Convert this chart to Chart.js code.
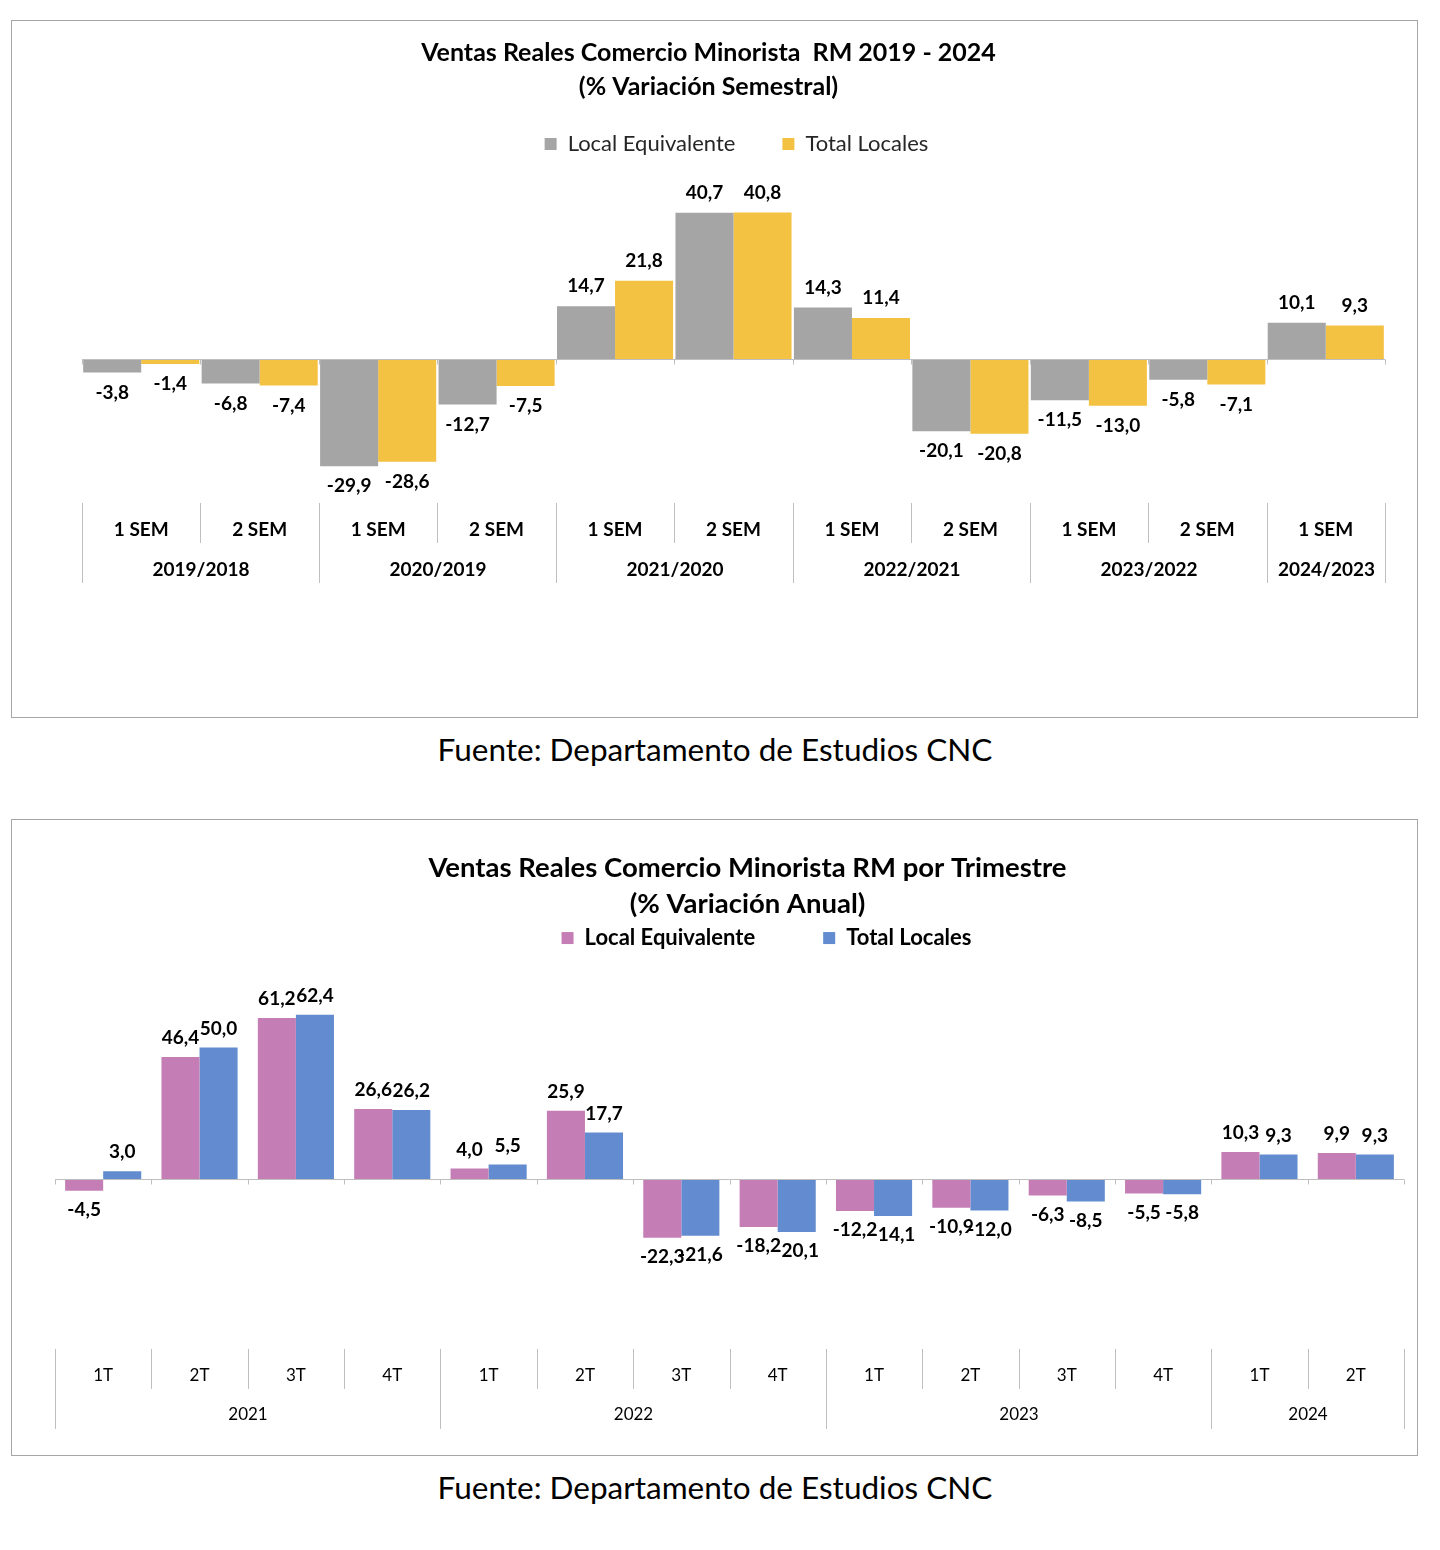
<!DOCTYPE html>
<html lang="es">
<head>
<meta charset="utf-8">
<title>Ventas Reales Comercio Minorista RM</title>
<script src="https://cdn.jsdelivr.net/npm/chart.js@4.4.1/dist/chart.umd.min.js"></script>
<style>
  body { margin: 0; background: #fff; font-family: Lato, sans-serif; }
  .box { position: absolute; left: 11px; width: 1405px; border: 1px solid #a6a6a6; }
  #box1 { top: 20px; height: 696px; }
  #box2 { top: 819px; height: 635px; }
  .src { position: absolute; left: 0; width: 1430px; text-align: center; font-size: 31.5px; line-height: 36px; color: #000; }
</style>
</head>
<body>
<div class="box" id="box1"><canvas id="chartSem"></canvas></div>
<div class="src" style="top:731px">Fuente: Departamento de Estudios CNC</div>
<div class="box" id="box2"><canvas id="chartTrim"></canvas></div>
<div class="src" style="top:1469px">Fuente: Departamento de Estudios CNC</div>

<script>
// Semestral chart data
const semLabels = ['1 SEM', '2 SEM', '1 SEM', '2 SEM', '1 SEM', '2 SEM', '1 SEM', '2 SEM', '1 SEM', '2 SEM', '1 SEM'];
const semGroups = ['2019/2018', '2020/2019', '2021/2020', '2022/2021', '2023/2022', '2024/2023'];
const semSpans  = [2, 2, 2, 2, 2, 1];
const semLocal  = [-3.8, -6.8, -29.9, -12.7, 14.7, 40.7, 14.3, -20.1, -11.5, -5.8, 10.1];
const semTotal  = [-1.4, -7.4, -28.6, -7.5, 21.8, 40.8, 11.4, -20.8, -13.0, -7.1, 9.3];

// Quarterly chart data
const trimLabels = ['1T', '2T', '3T', '4T', '1T', '2T', '3T', '4T', '1T', '2T', '3T', '4T', '1T', '2T'];
const trimGroups = ['2021', '2022', '2023', '2024'];
const trimSpans  = [4, 4, 4, 2];
const trimLocal  = [-4.5, 46.4, 61.2, 26.6, 4.0, 25.9, -22.3, -18.2, -12.2, -10.9, -6.3, -5.5, 10.3, 9.9];
const trimTotal  = [3.0, 50.0, 62.4, 26.2, 5.5, 17.7, -21.6, -20.1, -14.1, -12.0, -8.5, -5.8, 9.3, 9.3];

Chart.defaults.font.family = "Lato, 'Open Sans', sans-serif";
Chart.defaults.color = '#000';

const fmt = v => v.toFixed(1).replace('.', ',');

// Excel-style axis: zero line with ticks, two-level category labels at the bottom, value labels
const excelAxis = {
  id: 'excelAxis',
  afterDatasetsDraw(chart, args, o) {
    const { ctx, chartArea: a, scales: { x, y } } = chart;
    const n = chart.data.labels.length;
    const step = x.getPixelForValue(1) - x.getPixelForValue(0);
    const edge = i => Math.round(x.getPixelForValue(i) - step / 2) + 0.5;
    const y0 = Math.round(y.getPixelForValue(0)) + 0.5;
    const top = a.bottom;

    const groupEdges = new Set([0]);
    let k = 0;
    o.spans.forEach(s => { k += s; groupEdges.add(k); });

    ctx.save();
    ctx.strokeStyle = o.lineColor;
    ctx.lineWidth = 1;
    ctx.beginPath();
    ctx.moveTo(a.left, y0); ctx.lineTo(a.right, y0);
    for (let i = 0; i <= n; i++) {
      ctx.moveTo(edge(i), y0); ctx.lineTo(edge(i), y0 + 5);
      ctx.moveTo(edge(i), top); ctx.lineTo(edge(i), top + (groupEdges.has(i) ? o.rowH * 2 : o.rowH));
    }
    ctx.stroke();

    ctx.fillStyle = '#000';
    ctx.textAlign = 'center';
    ctx.textBaseline = 'middle';
    ctx.font = o.catFont;
    chart.data.labels.forEach((l, i) => ctx.fillText(l, x.getPixelForValue(i), top + o.row1));
    k = 0;
    o.groups.forEach((g, j) => {
      ctx.fillText(g, (edge(k) + edge(k + o.spans[j])) / 2, top + o.row2);
      k += o.spans[j];
    });

    ctx.font = o.valueFont;
    chart.data.datasets.forEach((ds, di) => {
      chart.getDatasetMeta(di).data.forEach((bar, i) => {
        const v = ds.data[i];
        ctx.fillText(fmt(v), bar.x, v >= 0 ? bar.y - o.gap : bar.y + o.gap);
      });
    });
    ctx.restore();
  }
};

// nudge title / legend horizontally (Excel doesn't center them on the plot)
const shiftBlocks = {
  id: 'shiftBlocks',
  afterLayout(chart, args, o) {
    if (o.title && chart.titleBlock) { chart.titleBlock.left += o.title; chart.titleBlock.right += o.title; }
    if (o.legend && chart.legend) { chart.legend.left += o.legend; chart.legend.right += o.legend; }
  }
};

new Chart(document.getElementById('chartSem'), {
  type: 'bar',
  data: {
    labels: semLabels,
    datasets: [
      { label: 'Local Equivalente', data: semLocal, backgroundColor: '#a5a5a5' },
      { label: 'Total Locales', data: semTotal, backgroundColor: '#f4c242' }
    ]
  },
  options: {
    responsive: true,
    maintainAspectRatio: false,
    animation: false,
    categoryPercentage: 0.98,
    barPercentage: 1,
    layout: { padding: { left: 70, right: 32, top: 0, bottom: 214 } },
    scales: {
      x: { display: false },
      y: { display: false, min: -40.1, max: 54.0 }
    },
    plugins: {
      title: {
        display: true,
        text: ['Ventas Reales Comercio Minorista  RM 2019 - 2024', '(% Variación Semestral)'],
        font: { size: 25, weight: 'bold', lineHeight: 1.36 },
        padding: { top: 15, bottom: -18 }
      },
      legend: {
        labels: { font: { size: 22 }, boxWidth: 12, boxHeight: 12, padding: 47, color: '#262626' }
      },
      tooltip: { enabled: false },
      shiftBlocks: { title: -25, legend: 3 },
      excelAxis: {
        groups: semGroups, spans: semSpans, lineColor: '#bfbfbf',
        rowH: 40, row1: 27, row2: 67, gap: 20,
        catFont: "bold 19px Lato, sans-serif", valueFont: "bold 19px Lato, sans-serif"
      }
    }
  },
  plugins: [shiftBlocks, excelAxis]
});

new Chart(document.getElementById('chartTrim'), {
  type: 'bar',
  data: {
    labels: trimLabels,
    datasets: [
      { label: 'Local Equivalente', data: trimLocal, backgroundColor: '#c47eb5' },
      { label: 'Total Locales', data: trimTotal, backgroundColor: '#628ccf' }
    ]
  },
  options: {
    responsive: true,
    maintainAspectRatio: false,
    animation: false,
    categoryPercentage: 0.79,
    barPercentage: 1,
    layout: { padding: { left: 43, right: 13, top: 0, bottom: 106 } },
    scales: {
      x: { display: false },
      y: { display: false, min: -64.6, max: 83.6 }
    },
    plugins: {
      title: {
        display: true,
        text: ['Ventas Reales Comercio Minorista RM por Trimestre', '(% Variación Anual)'],
        font: { size: 27.5, weight: 'bold', lineHeight: 1.31 },
        padding: { top: 30, bottom: -63 }
      },
      legend: {
        labels: { font: { size: 22, weight: 'bold' }, boxWidth: 12, boxHeight: 12, padding: 68 }
      },
      tooltip: { enabled: false },
      shiftBlocks: { title: 18, legend: 37 },
      excelAxis: {
        groups: trimGroups, spans: trimSpans, lineColor: '#bfbfbf',
        rowH: 40, row1: 27, row2: 66, gap: 19,
        catFont: "17px Lato, sans-serif", valueFont: "bold 19px Lato, sans-serif"
      }
    }
  },
  plugins: [shiftBlocks, excelAxis]
});
</script>
</body>
</html>
